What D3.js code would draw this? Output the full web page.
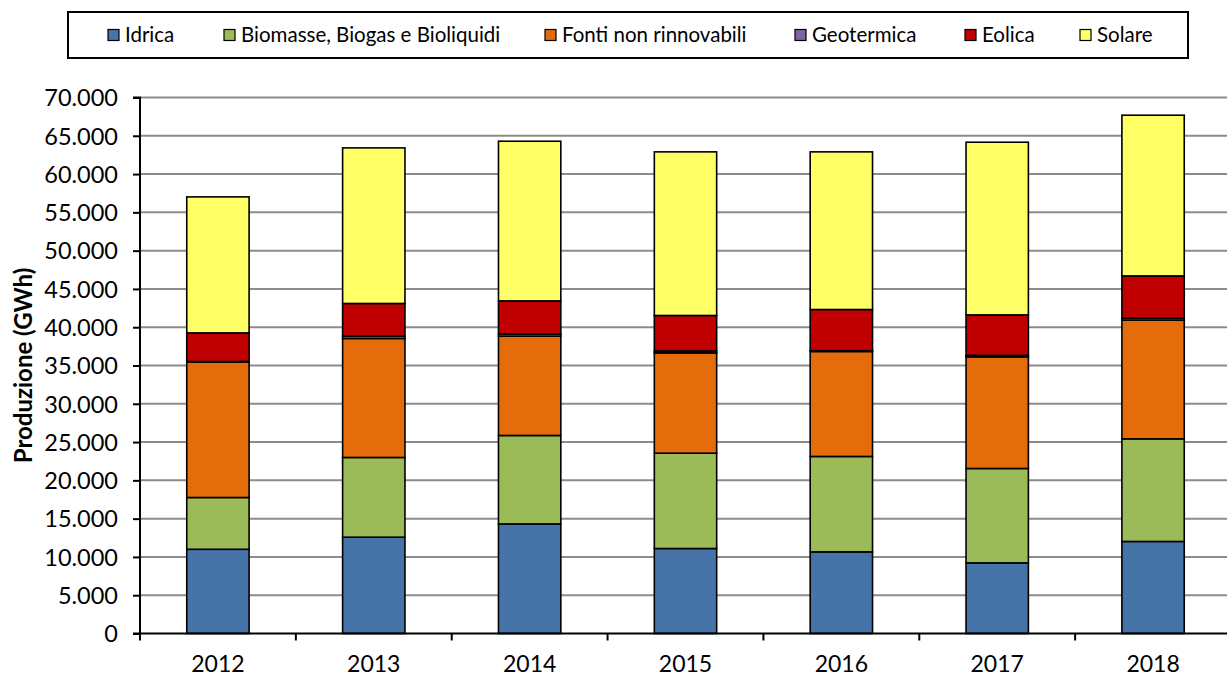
<!DOCTYPE html>
<html>
<head>
<meta charset="utf-8">
<script src="https://cdn.jsdelivr.net/npm/d3@7"></script>
<style>
  html, body { margin: 0; padding: 0; background: #fff; }
  svg { display: block; }
  text { font-family: Lato, "Open Sans", sans-serif; fill: #000; }
</style>
</head>
<body>
<div id="chart"></div>
<script>
const years = ["2012", "2013", "2014", "2015", "2016", "2017", "2018"];
const seriesNames = ["Idrica", "Biomasse, Biogas e Bioliquidi", "Fonti non rinnovabili", "Geotermica", "Eolica", "Solare"];
const seriesColors = ["#4673A8", "#9BBB59", "#E46C0A", "#8064A2", "#C00000", "#FFFF66"];
const idrica   = [11000, 12580, 14310, 11100, 10660, 9220, 12020];
const biomasse = [6760, 10410, 11550, 12450, 12460, 12330, 13400];
const fonti    = [17710, 15540, 12970, 13100, 13710, 14580, 15500];
const geo      = [50, 300, 300, 250, 100, 200, 250];
const eolica   = [3740, 4270, 4310, 4630, 5380, 5280, 5530];
const solare   = [17760, 20320, 20850, 21370, 20590, 22550, 20990];
const yTicks = [0, 5000, 10000, 15000, 20000, 25000, 30000, 35000, 40000, 45000, 50000, 55000, 60000, 65000, 70000];
const yTitle = "Produzione (GWh)";

const W = 1227, H = 677;
const margin = { left: 140, right: -4, top: 97.5, bottom: 43.5 };
const svg = d3.select("#chart").append("svg").attr("width", W).attr("height", H);

const rows = years.map((y, i) => ({
  year: y,
  "Idrica": idrica[i],
  "Biomasse, Biogas e Bioliquidi": biomasse[i],
  "Fonti non rinnovabili": fonti[i],
  "Geotermica": geo[i],
  "Eolica": eolica[i],
  "Solare": solare[i]
}));

const x = d3.scaleBand().domain(years).range([margin.left, W - margin.right]).paddingInner(0.6).paddingOuter(0.3);
const xb = d3.scaleBand().domain(years).range([margin.left, W - margin.right]);
const y = d3.scaleLinear().domain([0, 70000]).range([H - margin.bottom, margin.top]);

// gridlines
svg.append("g").selectAll("line").data(yTicks.filter(d => d > 0)).join("line")
  .attr("x1", margin.left).attr("x2", W)
  .attr("y1", d => y(d)).attr("y2", d => y(d))
  .attr("stroke", "#8c8c8c").attr("stroke-width", 2);

// bars
const stack = d3.stack().keys(seriesNames)(rows);
svg.append("g").selectAll("g").data(stack).join("g")
  .attr("fill", (d, i) => seriesColors[i])
  .selectAll("rect").data(d => d).join("rect")
  .attr("x", d => x(d.data.year))
  .attr("width", x.bandwidth())
  .attr("y", d => y(d[1]))
  .attr("height", d => y(d[0]) - y(d[1]))
  .attr("stroke", "#000").attr("stroke-width", 1.6);

// y axis
const yAxis = svg.append("g").attr("transform", `translate(${margin.left},0)`)
  .call(d3.axisLeft(y).tickValues(yTicks).tickSize(7).tickPadding(6)
    .tickFormat(d => d3.format(",")(d).replace(/,/g, ".")));
yAxis.select(".domain").attr("stroke", "#000").attr("stroke-width", 2).attr("d", `M-7,${y(70000)}H0V${y(0)}`);
yAxis.selectAll(".tick line").attr("stroke", "#000").attr("stroke-width", 2);
yAxis.selectAll(".tick text").attr("font-size", 23.5).attr("dy", "0.35em").attr("x", -22);

// x axis
const xAxisG = svg.append("g").attr("transform", `translate(0,${y(0)})`);
xAxisG.append("line").attr("x1", margin.left - 7).attr("x2", W).attr("stroke", "#000").attr("stroke-width", 2);
xAxisG.selectAll("line.tk").data(years).join("line").attr("class", "tk")
  .attr("x1", d => xb(d)).attr("x2", d => xb(d)).attr("y1", 0).attr("y2", 7)
  .attr("stroke", "#000").attr("stroke-width", 2);
xAxisG.selectAll("text").data(years).join("text")
  .attr("x", d => xb(d) + xb.bandwidth() / 2).attr("y", 38)
  .attr("text-anchor", "middle").attr("font-size", 23).text(d => d);

// y title
svg.append("text").attr("transform", `translate(32,${(y(0) + y(70000)) / 2}) rotate(-90)`)
  .attr("text-anchor", "middle").attr("font-size", 24).attr("font-weight", "bold").text(yTitle);

// legend
const lg = svg.append("g");
lg.append("rect").attr("x", 68).attr("y", 12).attr("width", 1120).attr("height", 46)
  .attr("fill", "#fff").attr("stroke", "#000").attr("stroke-width", 2);
const legendX = [108, 224, 545, 795, 965, 1080];
seriesNames.forEach((n, i) => {
  lg.append("rect").attr("x", legendX[i]).attr("y", 29.5).attr("width", 11).attr("height", 11)
    .attr("fill", seriesColors[i]).attr("stroke", "#000").attr("stroke-width", 1.2);
  lg.append("text").attr("x", legendX[i] + 17).attr("y", 35).attr("dy", "0.35em")
    .attr("font-size", 20.5).text(n);
});
</script>
</body>
</html>
